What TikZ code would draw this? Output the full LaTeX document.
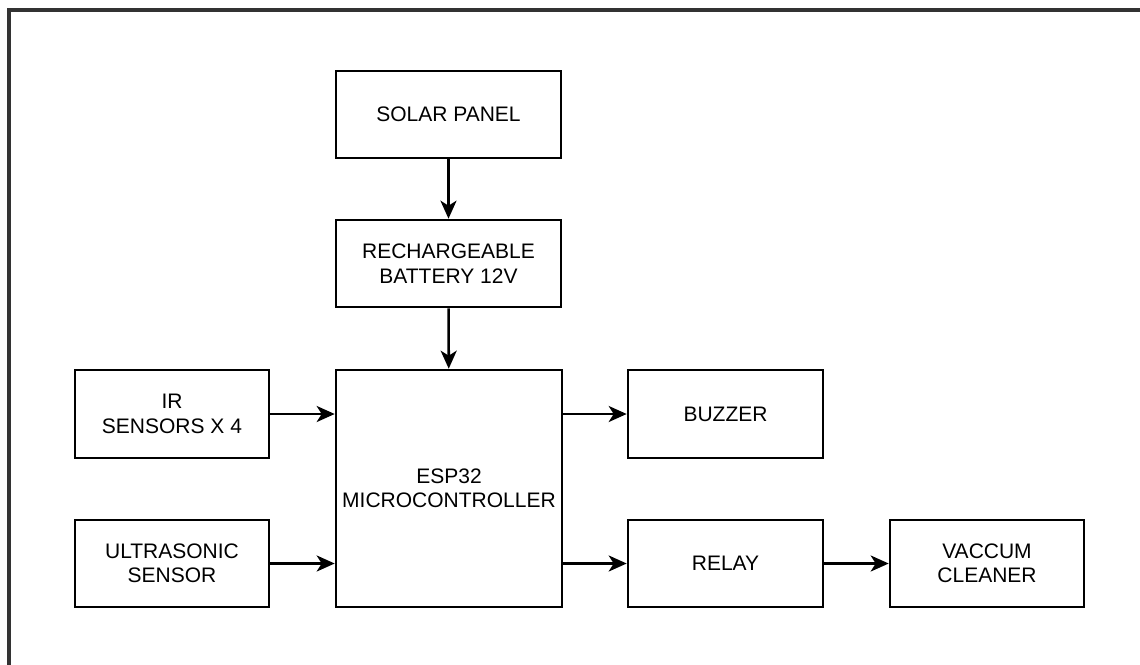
\documentclass[tikz,border=0pt]{standalone}
\usepackage{fontspec}
\setmainfont{Liberation Sans}
\usetikzlibrary{arrows.meta}
\begin{document}
\begin{tikzpicture}[x=1pt,y=-1pt,
  box/.style={draw, line width=2.6pt, align=center, inner sep=2pt,
    font=\fontsize{21}{24.5}\selectfont},
  conn/.style={line width=2.6pt, -{Stealth[length=18pt,width=16pt,inset=5pt]}}]
\useasboundingbox (0,0) rectangle (1140,664);
\draw[line width=3.2pt, black!80] (9,10) rectangle (1170,700);
\node[box, minimum width=225pt, minimum height=87pt] (solar) at (448.5,114.5) {SOLAR PANEL};
\node[box, minimum width=225pt, minimum height=87pt] (battery) at (448.5,263.5) {RECHARGEABLE\\BATTERY 12V};
\node[box, minimum width=226pt, minimum height=237pt] (esp) at (449,488.5) {ESP32\\MICROCONTROLLER};
\node[box, minimum width=194pt, minimum height=88pt] (ir) at (172,414) {IR\\SENSORS X 4};
\node[box, minimum width=194pt, minimum height=87pt] (ultra) at (172,563.5) {ULTRASONIC\\SENSOR};
\node[box, minimum width=195pt, minimum height=88pt] (buzzer) at (725.5,414) {BUZZER};
\node[box, minimum width=195pt, minimum height=87pt] (relay) at (725.5,563.5) {RELAY};
\node[box, minimum width=194pt, minimum height=87pt] (vac) at (987,563.5) {VACCUM\\CLEANER};
\draw[conn] (solar) -- (battery);
\draw[conn] (battery) -- (esp);
\draw[conn] (ir.east) -- (ir.east -| esp.west);
\draw[conn] (ultra.east) -- (ultra.east -| esp.west);
\draw[conn] (esp.east |- buzzer.west) -- (buzzer.west);
\draw[conn] (esp.east |- relay.west) -- (relay.west);
\draw[conn] (relay) -- (vac);
\end{tikzpicture}
\end{document}
